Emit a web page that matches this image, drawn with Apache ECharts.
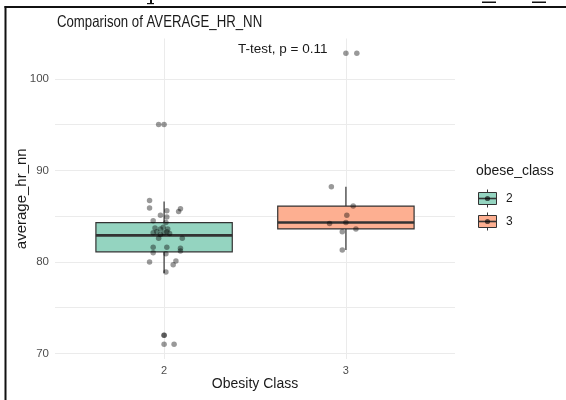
<!DOCTYPE html>
<html>
<head>
<meta charset="utf-8">
<script src="https://cdn.jsdelivr.net/npm/echarts@6/dist/echarts.min.js"></script>
<style>
  html, body { margin: 0; padding: 0; background: #fff; }
  #chart { width: 566px; height: 400px; }
</style>
</head>
<body>
<div id="chart"></div>
<script>
// data
const classes = [2, 3];
const classColors = ['#66c2a5', '#fc8d62'];
// lower whisker, Q1, median, Q3, upper whisker
const boxClass2 = [78.8, 81.1, 82.9, 84.3, 86.6];
const boxClass3 = [81.3, 83.6, 84.3, 86.1, 88.2];
// jittered raw points [x, average_hr_nn]
const pointsClass2 = [
  [1.92, 86.7], [1.92, 85.9], [1.98, 85.1], [2.015, 85.6], [2.015, 84.9],
  [2.08, 85.5], [2.09, 85.8], [1.94, 84.5], [2.01, 84.3], [1.95, 83.7],
  [1.98, 83.6], [1.995, 83.8], [2.02, 83.6], [1.96, 83.3], [2.0, 83.2],
  [2.015, 83.3], [2.03, 83.1], [1.98, 83.0], [1.94, 83.2], [1.97, 82.6],
  [2.1, 82.6], [1.94, 81.6], [2.015, 81.6], [2.09, 81.5], [2.09, 81.2],
  [1.94, 81.0], [2.01, 80.9], [1.92, 80.0], [2.065, 80.1], [2.05, 79.7],
  [2.01, 78.9], [1.97, 95.0], [2.0, 95.0], [2.0, 72.0], [2.0, 72.0],
  [2.0, 71.0], [2.055, 71.0]
];
const pointsClass3 = [
  [2.92, 88.2], [3.04, 86.1], [3.005, 85.1], [2.91, 84.2], [3.0, 84.3],
  [2.98, 83.3], [3.055, 83.6], [2.98, 81.3], [3.0, 102.8], [3.06, 102.8]
];
const yLabels = [70, 80, 90, 100];
const yGridLines = [70, 75, 80, 85, 90, 95, 100];
const titleText = 'Comparison of AVERAGE_HR_NN';
const pLabel = 'T-test, p = 0.11';

const boxData = [
  [classes[0]].concat(boxClass2),
  [classes[1]].concat(boxClass3)
];

const FONT = '"Liberation Sans", Arial, sans-serif';

function fade(hex, a) {
  const r = parseInt(hex.slice(1, 3), 16), g = parseInt(hex.slice(3, 5), 16), b = parseInt(hex.slice(5, 7), 16);
  const m = (v) => Math.round(v * a + 255 * (1 - a));
  return 'rgb(' + m(r) + ',' + m(g) + ',' + m(b) + ')';
}

function renderBox(params, api) {
  const x = api.value(0);
  const lo = api.coord([x, api.value(1)]);
  const q1 = api.coord([x, api.value(2)]);
  const med = api.coord([x, api.value(3)]);
  const q3 = api.coord([x, api.value(4)]);
  const hi = api.coord([x, api.value(5)]);
  const w = api.size([0.75, 0])[0];
  const stroke = '#333333';
  return {
    type: 'group',
    children: [
      { type: 'line', shape: { x1: hi[0], y1: hi[1], x2: q3[0], y2: q3[1] }, style: { stroke: stroke, lineWidth: 1.2 } },
      { type: 'line', shape: { x1: q1[0], y1: q1[1], x2: lo[0], y2: lo[1] }, style: { stroke: stroke, lineWidth: 1.2 } },
      { type: 'rect', shape: { x: q3[0] - w / 2, y: q3[1], width: w, height: q1[1] - q3[1] },
        style: { fill: fade(classColors[params.dataIndex], 0.7), stroke: stroke, lineWidth: 1.2 } },
      { type: 'line', shape: { x1: med[0] - w / 2, y1: med[1], x2: med[0] + w / 2, y2: med[1] }, style: { stroke: stroke, lineWidth: 2.6 } }
    ]
  };
}

// legend keys
const legendItems = [];
classes.forEach((c, i) => {
  const cy = 198.5 + i * 23;
  legendItems.push(
    { type: 'line', shape: { x1: 487.5, y1: cy - 9, x2: 487.5, y2: cy + 9 }, style: { stroke: '#333', lineWidth: 1 } },
    { type: 'rect', shape: { x: 478.5, y: cy - 6, width: 18, height: 12 }, style: { fill: fade(classColors[i], 0.7), stroke: '#333', lineWidth: 1 } },
    { type: 'line', shape: { x1: 478.5, y1: cy, x2: 496.5, y2: cy }, style: { stroke: '#333', lineWidth: 1.6 } },
    { type: 'circle', shape: { cx: 487.5, cy: cy, r: 2.6 }, style: { fill: 'rgba(0,0,0,0.6)' } },
    { type: 'text', x: 506, y: cy, style: { text: String(c), font: '12px ' + FONT, fill: '#1a1a1a', verticalAlign: 'middle' } }
  );
});

const chart = echarts.init(document.getElementById('chart'));
const option = {
  animation: false,
  backgroundColor: '#fff',
  textStyle: { fontFamily: FONT },
  grid: { left: 55, right: 111, top: 38.5, bottom: 41, containLabel: false },
  xAxis: {
    type: 'value', min: 1.4, max: 3.6,
    name: 'Obesity Class', nameLocation: 'middle', nameGap: 18, nameMoveOverlap: false,
    nameTextStyle: { fontSize: 14, color: '#1a1a1a' },
    axisLine: { show: false },
    axisTick: { show: false, customValues: classes },
    axisLabel: { customValues: classes, fontSize: 11, color: '#4d4d4d', margin: 6 },
    splitLine: { show: true, lineStyle: { color: '#ebebeb', width: 1 } }
  },
  yAxis: {
    type: 'value', min: 69.4, max: 104.4,
    name: 'average_hr_nn', nameLocation: 'middle', nameGap: 26, nameMoveOverlap: false,
    nameTextStyle: { fontSize: 15, color: '#1a1a1a' },
    axisLine: { show: false },
    axisTick: { show: false, customValues: yGridLines },
    axisLabel: { customValues: yLabels, fontSize: 11.5, color: '#4d4d4d', margin: 6 },
    splitLine: { show: true, lineStyle: { color: '#ebebeb', width: 1 } }
  },
  series: [
    { type: 'custom', renderItem: renderBox, data: boxData, z: 2 },
    { type: 'scatter', data: pointsClass2, symbolSize: 5.5, itemStyle: { color: 'rgba(0,0,0,0.5)' }, z: 3 },
    { type: 'scatter', data: pointsClass3, symbolSize: 5.5, itemStyle: { color: 'rgba(0,0,0,0.5)' }, z: 3 }
  ],
  graphic: [
    { type: 'text', x: 57, y: 22, scaleX: 0.8, style: { text: titleText, font: '16.5px ' + FONT, fill: '#1a1a1a', verticalAlign: 'middle' } },
    { type: 'text', left: 238, top: 42, style: { text: pLabel, font: '13.5px ' + FONT, fill: '#1a1a1a' } },
    { type: 'text', left: 476, top: 164, style: { text: 'obese_class', font: '14px ' + FONT, fill: '#1a1a1a' } },
    { type: 'group', left: 0, top: 0, bounding: 'raw', children: legendItems },
    // page frame and clipped text remnants above the figure
    { type: 'rect', shape: { x: 4.5, y: 6, width: 2, height: 394 }, style: { fill: '#111' } },
    { type: 'rect', shape: { x: 4.5, y: 6, width: 562, height: 2 }, style: { fill: '#111' } },
    { type: 'rect', shape: { x: 150, y: 0, width: 2, height: 4 }, style: { fill: '#111' } },
    { type: 'rect', shape: { x: 147, y: 3, width: 7, height: 1.2 }, style: { fill: '#111' } },
    { type: 'rect', shape: { x: 482, y: 1.5, width: 14, height: 1.5 }, style: { fill: '#111' } },
    { type: 'rect', shape: { x: 532, y: 1.5, width: 14, height: 1.5 }, style: { fill: '#111' } }
  ]
};
chart.setOption(option);
</script>
</body>
</html>
